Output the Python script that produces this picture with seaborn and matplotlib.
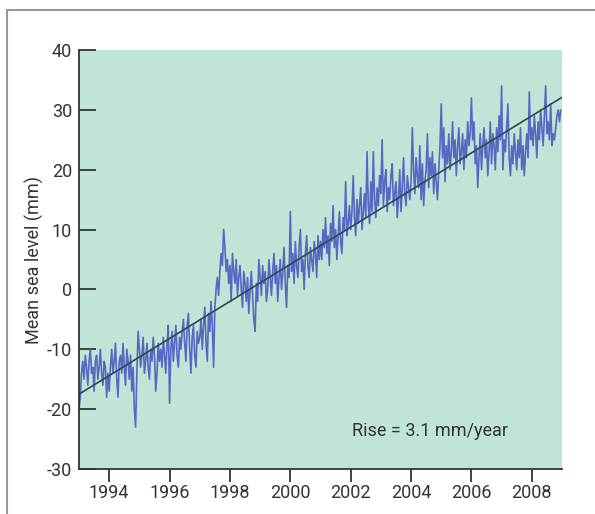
import numpy as np
import pandas as pd
import matplotlib
matplotlib.use("Agg")
import matplotlib.pyplot as plt
from matplotlib.lines import Line2D
import seaborn as sns

# mean sea level (mm), about two readings a month
sl_1993_1996 = [
    -20, -18, -14, -12, -15, -11, -13, -16, -12, -10, -14, -13, -17, -12, -11, -15, -13, -10, -14, -16, -12, -13, -18, -14,
    -17, -13, -10, -14, -12, -9, -15, -18, -12, -11, -14, -9, -13, -16, -10, -12, -15, -11, -17, -13, -20, -23, -14, -7,
    -10, -13, -11, -8, -14, -12, -9, -13, -15, -10, -12, -8, -11, -17, -14, -9, -12, -10, -13, -8, -11, -14, -9, -6,
    -19, -10, -7, -12, -9, -6, -11, -13, -8, -10, -7, -5, -9, -12, -6, -4, -10, -14, -8, -6, -11, -13, -7, -9,
]
sl_1997_2000 = [
    -8, -5, -10, -6, -3, -9, -12, -4, -7, -2, -6, -13, -3, 0, 2, -1, 3, 6, 4, 10, 7, 3, 5, 1,
    4, -2, 6, 3, 1, 5, -1, 2, 4, 0, -3, 3, 1, -2, 2, -4, 0, 3, -1, -5, -7, 1, -2, 5,
    2, -1, 4, 1, 3, -2, 0, 5, 2, -1, 3, 6, 1, 4, -2, 2, 5, 0, 3, 7, 1, -3, 4, 2,
    13, 3, 6, 1, 8, 4, 2, 7, 10, 3, 5, 0, 6, 9, 4, 2, 7, 5, 3, 8, 6, 2, 9, 5,
]
sl_2001_2004 = [
    8, 5, 10, 7, 12, 6, 9, 4, 11, 8, 14, 7, 10, 5, 9, 13, 8, 6, 12, 10, 18, 9, 11, 14,
    10, 13, 19, 12, 9, 15, 11, 14, 17, 10, 13, 16, 12, 23, 14, 11, 18, 13, 23, 15, 12, 17, 14, 19,
    16, 25, 14, 18, 20, 13, 17, 15, 19, 21, 14, 16, 18, 12, 15, 20, 13, 17, 22, 16, 14, 19, 17, 15,
    18, 27, 20, 16, 22, 19, 17, 24, 15, 21, 14, 18, 20, 26, 17, 22, 19, 23, 16, 21, 18, 15, 20, 24,
]
sl_2005_2008 = [
    31, 22, 27, 18, 24, 21, 26, 20, 23, 28, 22, 25, 19, 24, 27, 21, 23, 26, 20, 25, 22, 28, 24, 26,
    32, 25, 28, 21, 24, 17, 22, 26, 20, 24, 27, 22, 25, 19, 23, 28, 21, 26, 24, 20, 27, 23, 29, 25,
    34, 20, 25, 23, 27, 31, 22, 19, 24, 21, 26, 23, 20, 25, 22, 27, 20, 24, 19, 23, 26, 22, 33, 25,
    27, 24, 29, 26, 22, 28, 25, 30, 27, 24, 29, 34, 26, 28, 25, 31, 24, 26, 25, 27, 29, 30, 28, 30,
]
start_year = 1993
per_year = 24

# fitted trend, 3.1 mm/year
trend_years = [1993, 2009]
trend_mm = [-17.5, 32.1]

x_ticks = [1994, 1996, 1998, 2000, 2002, 2004, 2006, 2008]
y_ticks = [-30, -20, -10, 0, 10, 20, 30, 40]

level = sl_1993_1996 + sl_1997_2000 + sl_2001_2004 + sl_2005_2008
df = pd.DataFrame({"year": start_year + np.arange(len(level)) / per_year, "mm": level})
trend = pd.DataFrame({"year": trend_years, "mm": trend_mm})

sns.set_style("ticks")
plt.rcParams["font.family"] = ["Roboto", "DejaVu Sans"]
plt.rcParams["axes.unicode_minus"] = False

fig = plt.figure(figsize=(5.95, 5.14), dpi=100)
ax = fig.add_axes([79 / 595, 45 / 514, 483 / 595, 419 / 514])
ax.set_facecolor("#c0e4d6")

sns.lineplot(data=df, x="year", y="mm", ax=ax, color="#4a5cc0", lw=1.2, alpha=0.9)
sns.lineplot(data=trend, x="year", y="mm", ax=ax, color="#2e4a4c", lw=1.2)

ax.set_xlim(1993, 2009)
ax.set_ylim(-30, 40)
ax.set_xticks(x_ticks)
ax.set_yticks(y_ticks)
ax.set_xlabel("")
ax.set_ylabel("Mean sea level (mm)", fontsize=13, color="#333333", labelpad=2)

sns.despine(ax=ax)
for side in ["left", "bottom"]:
    ax.spines[side].set_color("#333333")
    ax.spines[side].set_linewidth(1.3)
ax.tick_params(axis="y", direction="in", length=12, width=1.3, pad=5,
               labelsize=13, colors="#333333")
ax.tick_params(axis="x", direction="out", length=9, width=1.3, pad=2,
               labelsize=13, colors="#333333")

ax.text(2007.2, -23.7, "Rise = 3.1 mm/year", ha="right", va="center",
        fontsize=13, color="#333333")

# grey frame round the figure (top and left)
fig.add_artist(Line2D([7 / 595, 1], [1 - 10 / 514, 1 - 10 / 514], color="#999999", lw=1.5))
fig.add_artist(Line2D([7 / 595, 7 / 595], [0, 1 - 10 / 514], color="#999999", lw=1.5))

fig.savefig("out.png", dpi=100)
